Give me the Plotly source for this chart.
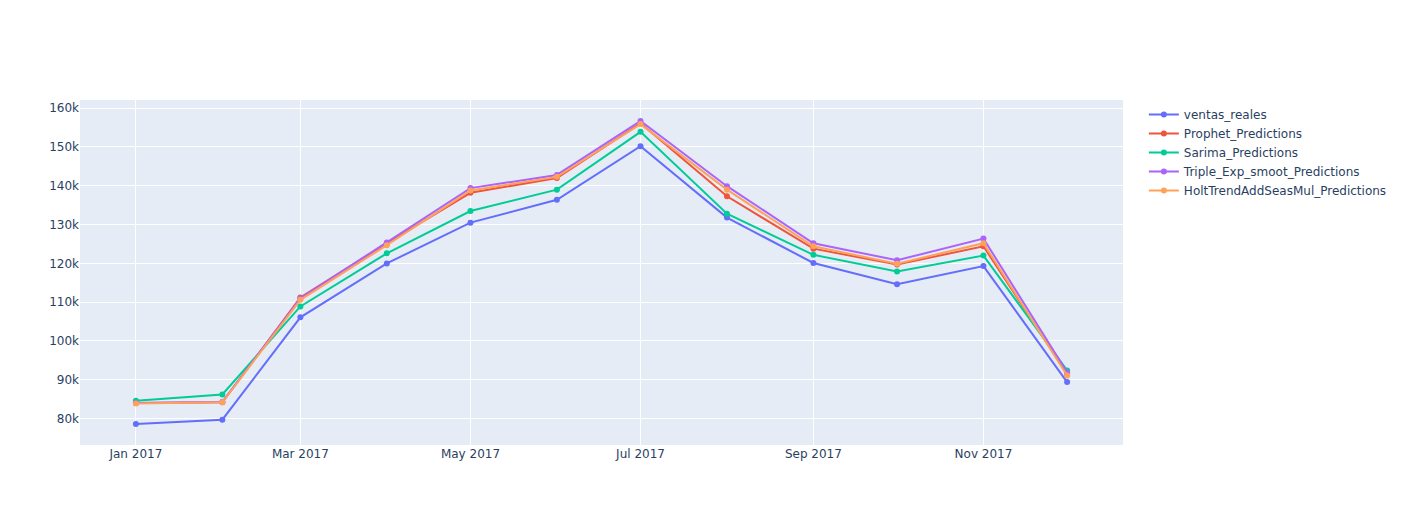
import plotly.graph_objects as go

fechas = ["2017-01-01", "2017-02-01", "2017-03-01", "2017-04-01", "2017-05-01", "2017-06-01",
          "2017-07-01", "2017-08-01", "2017-09-01", "2017-10-01", "2017-11-01", "2017-12-01"]

ventas_reales = [78600, 79700, 106100, 120000, 130500, 136400, 150200, 131800, 120100, 114600, 119300, 89400]
prophet = [84000, 84200, 111200, 125200, 138200, 142000, 156100, 137300, 123800, 119700, 124400, 91500]
sarima = [84600, 86200, 108900, 122600, 133500, 139000, 153900, 132800, 122200, 117900, 122000, 92400]
triple_exp = [84000, 84300, 111000, 125400, 139400, 142800, 156700, 139900, 125200, 120800, 126400, 91900]
holt = [83900, 84200, 110600, 124700, 138800, 142300, 155900, 139000, 124400, 119900, 125200, 91100]

series = [
    ("ventas_reales", ventas_reales),
    ("Prophet_Predictions", prophet),
    ("Sarima_Predictions", sarima),
    ("Triple_Exp_smoot_Predictions", triple_exp),
    ("HoltTrendAddSeasMul_Predictions", holt),
]

fig = go.Figure()
for name, vals in series:
    fig.add_trace(go.Scatter(x=fechas, y=vals, mode="lines+markers", name=name))

fig.update_layout(
    template="plotly",
    width=1404,
    height=525,
    font=dict(family="DejaVu Sans", size=12),
)
fig.write_html(
    "out.html",
    config={"displayModeBar": False},
    post_script="document.body.style.margin='0';document.body.style.overflow='hidden';",
)
